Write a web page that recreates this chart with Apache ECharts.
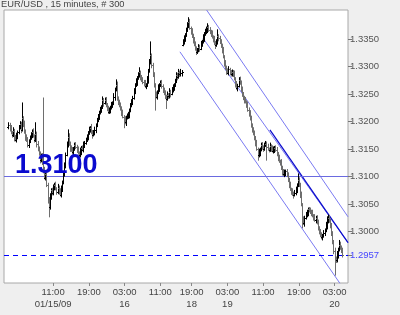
<!DOCTYPE html>
<html>
<head>
<meta charset="utf-8">
<script src="https://cdn.jsdelivr.net/npm/echarts@6/dist/echarts.min.js"></script>
<style>
html,body{margin:0;padding:0;background:#efefef;}
#chart{width:400px;height:315px;}
</style>
</head>
<body>
<div id="chart"></div>
<script>
// ---- data ----
const sessionStarts = ['2009-01-15T01:00:00Z', '2009-01-18T17:00:00Z'];
const sessionBars = [156, 144];

const opens = [
1.3190,1.3194,1.3188,1.3180,1.3176,1.3183,1.3171,1.3167,1.3174,1.3181,
1.3190,1.3196,1.3185,1.3207,1.3195,1.3182,1.3172,1.3166,1.3158,1.3165,
1.3171,1.3176,1.3182,1.3174,1.3167,1.3178,1.3160,1.3149,1.3143,1.3130,
1.3138,1.3125,1.3112,1.3098,1.3104,1.3085,1.3058,1.3045,1.3064,1.3076,
1.3070,1.3081,1.3085,1.3078,1.3072,1.3080,1.3074,1.3067,1.3078,1.3090,
1.3104,1.3121,1.3140,1.3158,1.3172,1.3160,1.3152,1.3148,1.3145,1.3151,
1.3158,1.3154,1.3149,1.3143,1.3139,1.3146,1.3152,1.3149,1.3158,1.3162,
1.3167,1.3172,1.3179,1.3185,1.3189,1.3181,1.3176,1.3180,1.3185,1.3194,
1.3203,1.3209,1.3216,1.3221,1.3227,1.3239,1.3234,1.3239,1.3231,1.3225,
1.3218,1.3221,1.3225,1.3230,1.3234,1.3245,1.3258,1.3267,1.3243,1.3236,
1.3230,1.3224,1.3216,1.3209,1.3203,1.3199,1.3207,1.3210,1.3212,1.3221,
1.3230,1.3236,1.3243,1.3255,1.3267,1.3272,1.3279,1.3285,1.3290,1.3281,
1.3276,1.3272,1.3270,1.3264,1.3267,1.3276,1.3292,1.3309,1.3321,1.3303,
1.3285,1.3266,1.3249,1.3245,1.3254,1.3261,1.3266,1.3270,1.3265,1.3258,
1.3252,1.3245,1.3241,1.3249,1.3246,1.3254,1.3251,1.3258,1.3262,1.3267,
1.3274,1.3285,1.3281,1.3290,1.3286,1.3289,1.3340,1.3345,1.3351,1.3358,
1.3367,1.3376,1.3381,1.3370,1.3363,1.3356,1.3349,1.3340,1.3334,1.3327,
1.3330,1.3336,1.3333,1.3341,1.3346,1.3352,1.3359,1.3364,1.3367,1.3372,
1.3367,1.3363,1.3360,1.3354,1.3349,1.3343,1.3339,1.3345,1.3356,1.3352,
1.3345,1.3338,1.3330,1.3318,1.3305,1.3298,1.3292,1.3289,1.3295,1.3290,
1.3286,1.3290,1.3287,1.3278,1.3267,1.3262,1.3265,1.3276,1.3272,1.3260,
1.3249,1.3243,1.3239,1.3236,1.3230,1.3222,1.3216,1.3205,1.3194,1.3186,
1.3179,1.3170,1.3161,1.3150,1.3139,1.3144,1.3149,1.3157,1.3154,1.3151,
1.3158,1.3160,1.3154,1.3150,1.3149,1.3155,1.3152,1.3147,1.3149,1.3153,
1.3149,1.3141,1.3134,1.3128,1.3125,1.3116,1.3109,1.3104,1.3107,1.3110,
1.3103,1.3094,1.3085,1.3077,1.3072,1.3069,1.3067,1.3071,1.3076,1.3085,
1.3094,1.3085,1.3067,1.3049,1.3021,1.3016,1.3025,1.3031,1.3034,1.3041,
1.3039,1.3036,1.3034,1.3029,1.3025,1.3022,1.3025,1.3016,1.3007,1.3001,
1.2994,1.2990,1.2992,1.2997,1.3003,1.3011,1.3018,1.3024,1.3021,1.3012,
1.2996,1.2981,1.2965,1.2952,1.2948,1.2958,1.2967,1.2976,1.2972,1.2967
];
const highs = [
1.3198,1.3197,1.3193,1.3182,1.3189,1.3186,1.3175,1.3179,1.3183,1.3193,
1.3200,1.3199,1.3234,1.3209,1.3201,1.3185,1.3176,1.3171,1.3167,1.3174,
1.3180,1.3185,1.3187,1.3176,1.3198,1.3181,1.3164,1.3154,1.3145,1.3141,
1.3142,1.3243,1.3117,1.3106,1.3110,1.3088,1.3062,1.3069,1.3078,1.3079,
1.3085,1.3088,1.3090,1.3080,1.3086,1.3083,1.3078,1.3083,1.3092,1.3107,
1.3125,1.3143,1.3163,1.3185,1.3178,1.3163,1.3156,1.3153,1.3153,1.3161,
1.3162,1.3157,1.3154,1.3145,1.3152,1.3155,1.3156,1.3163,1.3164,1.3170,
1.3176,1.3182,1.3190,1.3191,1.3195,1.3184,1.3184,1.3190,1.3196,1.3206,
1.3213,1.3219,1.3226,1.3229,1.3245,1.3242,1.3243,1.3244,1.3233,1.3228,
1.3225,1.3228,1.3235,1.3236,1.3251,1.3261,1.3276,1.3272,1.3245,1.3239,
1.3234,1.3227,1.3221,1.3211,1.3209,1.3210,1.3214,1.3217,1.3223,1.3233,
1.3240,1.3246,1.3260,1.3269,1.3278,1.3282,1.3289,1.3298,1.3292,1.3284,
1.3280,1.3275,1.3275,1.3269,1.3282,1.3295,1.3313,1.3345,1.3323,1.3306,
1.3289,1.3269,1.3254,1.3256,1.3267,1.3269,1.3274,1.3275,1.3267,1.3261,
1.3256,1.3248,1.3254,1.3251,1.3260,1.3257,1.3262,1.3267,1.3269,1.3277,
1.3289,1.3288,1.3295,1.3292,1.3295,1.3293,1.3349,1.3356,1.3360,1.3370,
1.3380,1.3389,1.3386,1.3372,1.3369,1.3359,1.3353,1.3345,1.3336,1.3333,
1.3340,1.3339,1.3346,1.3348,1.3358,1.3362,1.3368,1.3372,1.3378,1.3375,
1.3371,1.3366,1.3365,1.3356,1.3355,1.3346,1.3349,1.3367,1.3358,1.3355,
1.3349,1.3341,1.3335,1.3320,1.3311,1.3301,1.3296,1.3300,1.3297,1.3293,
1.3294,1.3293,1.3292,1.3280,1.3273,1.3268,1.3280,1.3281,1.3274,1.3263,
1.3253,1.3246,1.3244,1.3238,1.3236,1.3225,1.3220,1.3210,1.3196,1.3189,
1.3183,1.3173,1.3166,1.3152,1.3150,1.3152,1.3161,1.3162,1.3156,1.3161,
1.3164,1.3163,1.3159,1.3152,1.3161,1.3158,1.3156,1.3154,1.3155,1.3156,
1.3153,1.3144,1.3139,1.3130,1.3131,1.3119,1.3113,1.3112,1.3112,1.3113,
1.3107,1.3097,1.3090,1.3079,1.3078,1.3072,1.3075,1.3081,1.3087,1.3105,
1.3098,1.3088,1.3072,1.3051,1.3027,1.3028,1.3035,1.3039,1.3043,1.3044,
1.3043,1.3039,1.3039,1.3031,1.3031,1.3028,1.3029,1.3021,1.3009,1.3004,
1.2998,1.2995,1.3002,1.3005,1.3017,1.3027,1.3030,1.3029,1.3023,1.3015,
1.3000,1.2984,1.2970,1.2954,1.2964,1.2970,1.2984,1.2981,1.2974,1.2970
];
const lows = [
1.3187,1.3183,1.3178,1.3172,1.3173,1.3165,1.3165,1.3163,1.3169,1.3178,
1.3187,1.3180,1.3183,1.3191,1.3179,1.3166,1.3164,1.3154,1.3153,1.3162,
1.3168,1.3171,1.3172,1.3163,1.3164,1.3154,1.3147,1.3139,1.3125,1.3127,
1.3122,1.3107,1.3096,1.3094,1.3082,1.3052,1.3027,1.3041,1.3059,1.3067,
1.3067,1.3076,1.3076,1.3068,1.3069,1.3068,1.3065,1.3063,1.3073,1.3087,
1.3101,1.3116,1.3138,1.3154,1.3157,1.3146,1.3146,1.3141,1.3140,1.3148,
1.3151,1.3144,1.3141,1.3135,1.3136,1.3140,1.3147,1.3145,1.3153,1.3159,
1.3164,1.3167,1.3177,1.3181,1.3178,1.3170,1.3174,1.3176,1.3180,1.3191,
1.3200,1.3204,1.3214,1.3217,1.3224,1.3228,1.3232,1.3227,1.3220,1.3215,
1.3215,1.3216,1.3223,1.3226,1.3231,1.3239,1.3256,1.3239,1.3231,1.3227,
1.3221,1.3211,1.3207,1.3189,1.3196,1.3193,1.3205,1.3206,1.3207,1.3218,
1.3227,1.3231,1.3241,1.3251,1.3264,1.3266,1.3277,1.3281,1.3276,1.3273,
1.3269,1.3265,1.3262,1.3260,1.3264,1.3270,1.3290,1.3305,1.3298,1.3282,
1.3263,1.3221,1.3243,1.3241,1.3251,1.3255,1.3264,1.3261,1.3253,1.3249,
1.3242,1.3224,1.3239,1.3242,1.3243,1.3245,1.3249,1.3254,1.3257,1.3264,
1.3271,1.3276,1.3279,1.3282,1.3283,1.3283,1.3338,1.3341,1.3346,1.3355,
1.3364,1.3371,1.3368,1.3359,1.3353,1.3343,1.3338,1.3330,1.3322,1.3324,
1.3327,1.3328,1.3331,1.3337,1.3343,1.3346,1.3357,1.3360,1.3362,1.3364,
1.3360,1.3355,1.3352,1.3345,1.3340,1.3333,1.3337,1.3341,1.3347,1.3342,
1.3335,1.3325,1.3316,1.3301,1.3295,1.3286,1.3287,1.3285,1.3285,1.3283,
1.3283,1.3282,1.3276,1.3263,1.3259,1.3256,1.3263,1.3268,1.3255,1.3246,
1.3240,1.3234,1.3234,1.3226,1.3219,1.3210,1.3203,1.3190,1.3181,1.3176,
1.3167,1.3156,1.3148,1.3130,1.3136,1.3138,1.3147,1.3150,1.3146,1.3148,
1.3155,1.3130,1.3148,1.3145,1.3146,1.3146,1.3145,1.3143,1.3144,1.3146,
1.3138,1.3129,1.3126,1.3121,1.3113,1.3103,1.3102,1.3100,1.3102,1.3100,
1.3091,1.3080,1.3075,1.3068,1.3066,1.3061,1.3065,1.3067,1.3071,1.3082,
1.3082,1.3062,1.3047,1.3007,1.3013,1.3010,1.3023,1.3027,1.3029,1.3036,
1.3033,1.3029,1.3027,1.3021,1.3019,1.3016,1.3014,1.3003,1.2996,1.2991,
1.2987,1.2985,1.2990,1.2993,1.3000,1.3005,1.3016,1.3017,1.3007,1.2993,
1.2978,1.2960,1.2921,1.2944,1.2945,1.2952,1.2965,1.2968,1.2962,1.2954
];
const closes = [
1.3194,1.3188,1.3180,1.3176,1.3183,1.3171,1.3167,1.3174,1.3181,1.3190,
1.3196,1.3185,1.3207,1.3195,1.3182,1.3172,1.3166,1.3158,1.3165,1.3171,
1.3176,1.3182,1.3174,1.3167,1.3178,1.3160,1.3149,1.3143,1.3130,1.3138,
1.3125,1.3112,1.3098,1.3104,1.3085,1.3058,1.3045,1.3064,1.3076,1.3070,
1.3081,1.3085,1.3078,1.3072,1.3080,1.3074,1.3067,1.3078,1.3090,1.3104,
1.3121,1.3140,1.3158,1.3172,1.3160,1.3152,1.3148,1.3145,1.3151,1.3158,
1.3154,1.3149,1.3143,1.3139,1.3146,1.3152,1.3149,1.3158,1.3162,1.3167,
1.3172,1.3179,1.3185,1.3189,1.3181,1.3176,1.3180,1.3185,1.3194,1.3203,
1.3209,1.3216,1.3221,1.3227,1.3239,1.3234,1.3239,1.3231,1.3225,1.3218,
1.3221,1.3225,1.3230,1.3234,1.3245,1.3258,1.3267,1.3243,1.3236,1.3230,
1.3224,1.3216,1.3209,1.3203,1.3199,1.3207,1.3210,1.3212,1.3221,1.3230,
1.3236,1.3243,1.3255,1.3267,1.3272,1.3279,1.3285,1.3290,1.3281,1.3276,
1.3272,1.3270,1.3264,1.3267,1.3276,1.3292,1.3309,1.3321,1.3303,1.3285,
1.3266,1.3249,1.3245,1.3254,1.3261,1.3266,1.3270,1.3265,1.3258,1.3252,
1.3245,1.3241,1.3249,1.3246,1.3254,1.3251,1.3258,1.3262,1.3267,1.3274,
1.3285,1.3281,1.3290,1.3286,1.3289,1.3290,1.3345,1.3351,1.3358,1.3367,
1.3376,1.3381,1.3370,1.3363,1.3356,1.3349,1.3340,1.3334,1.3327,1.3330,
1.3336,1.3333,1.3341,1.3346,1.3352,1.3359,1.3364,1.3367,1.3372,1.3367,
1.3363,1.3360,1.3354,1.3349,1.3343,1.3339,1.3345,1.3356,1.3352,1.3345,
1.3338,1.3330,1.3318,1.3305,1.3298,1.3292,1.3289,1.3295,1.3290,1.3286,
1.3290,1.3287,1.3278,1.3267,1.3262,1.3265,1.3276,1.3272,1.3260,1.3249,
1.3243,1.3239,1.3236,1.3230,1.3222,1.3216,1.3205,1.3194,1.3186,1.3179,
1.3170,1.3161,1.3150,1.3139,1.3144,1.3149,1.3157,1.3154,1.3151,1.3158,
1.3160,1.3154,1.3150,1.3149,1.3155,1.3152,1.3147,1.3149,1.3153,1.3149,
1.3141,1.3134,1.3128,1.3125,1.3116,1.3109,1.3104,1.3107,1.3110,1.3103,
1.3094,1.3085,1.3077,1.3072,1.3069,1.3067,1.3071,1.3076,1.3085,1.3094,
1.3085,1.3067,1.3049,1.3021,1.3016,1.3025,1.3031,1.3034,1.3041,1.3039,
1.3036,1.3034,1.3029,1.3025,1.3022,1.3025,1.3016,1.3007,1.3001,1.2994,
1.2990,1.2992,1.2997,1.3003,1.3011,1.3018,1.3024,1.3021,1.3012,1.2996,
1.2981,1.2965,1.2952,1.2948,1.2958,1.2967,1.2976,1.2972,1.2967,1.2957
];

// channel lines: [bar index, price] end points
const upperLineX = [177.4, 304];
const upperLineY = [1.3403, 1.3027];
const midLineX = [174.1, 304];
const midLineY = [1.3352, 1.2980];
const lowerLineX = [153.5, 296.8];
const lowerLineY = [1.3327, 1.2906];
const trendLineX = [234.1, 304];
const trendLineY = [1.3185, 1.2980];

const levelPrice = 1.3100;
const lastPrice = 1.2957;

const yTicks = [lastPrice, 1.3000, 1.3050, 1.3100, 1.3150, 1.3200, 1.3250, 1.3300, 1.3350];
const tickTimes = ['2009-01-15T11:00:00Z','2009-01-15T19:00:00Z','2009-01-16T03:00:00Z','2009-01-16T11:00:00Z',
  '2009-01-18T19:00:00Z','2009-01-19T03:00:00Z','2009-01-19T11:00:00Z','2009-01-19T19:00:00Z','2009-01-20T03:00:00Z'];
const tickLabels = ['11:00\n01/15/09','19:00','03:00\n16','11:00','19:00\n18','03:00\n19','11:00','19:00','03:00\n20'];

// ---- build ----
const times = [];
sessionStarts.forEach((s, k) => {
  const t0 = Date.parse(s);
  for (let j = 0; j < sessionBars[k]; j++) times.push(t0 + j * 15 * 60000);
});
const tickIdx = tickTimes.map(t => times.indexOf(Date.parse(t)));
const labelMap = {};
tickIdx.forEach((i, k) => { labelMap[i] = tickLabels[k]; });

const ohlc = closes.map((c, i) => [i, opens[i], highs[i], lows[i], c]);
const pair = (xs, ys) => xs.map((x, i) => [x, ys[i]]);

const chart = echarts.init(document.getElementById('chart'), null, {renderer: 'canvas'});
const font = 'Liberation Sans';

chart.setOption({
  animation: false,
  backgroundColor: '#efefef',
  textStyle: {fontFamily: font},
  title: {
    text: 'EUR/USD , 15 minutes, # 300',
    left: 0, top: 0, padding: [0, 0, 0, 1],
    textStyle: {fontSize: 9.3, fontWeight: 'normal', color: '#444', fontFamily: font}
  },
  grid: {left: 4, right: 52, top: 10, bottom: 32, show: true,
    borderColor: '#a8a8a8', borderWidth: 1, backgroundColor: '#ffffff'},
  xAxis: {
    type: 'value', min: -4, max: 304,
    splitLine: {show: false},
    axisLine: {show: false, onZero: false},
    axisTick: {show: true, customValues: tickIdx, length: 3, lineStyle: {color: '#888'}},
    axisLabel: {customValues: tickIdx, formatter: v => labelMap[v] || '',
      fontSize: 9.5, lineHeight: 12, margin: 3, color: '#444', fontFamily: font}
  },
  yAxis: {
    type: 'value', position: 'right', min: 1.29067, max: 1.3403, scale: true,
    splitLine: {show: false},
    axisLine: {show: false, onZero: false},
    axisTick: {show: true, customValues: yTicks, length: 4, lineStyle: {color: '#777'}},
    axisLabel: {customValues: yTicks, formatter: v => Number(v).toFixed(4),
      showMinLabel: true, showMaxLabel: true,
      fontSize: 9.5, margin: 2, fontFamily: font,
      color: v => Math.abs(parseFloat(v) - lastPrice) < 1e-6 ? '#4646ff' : '#555'}
  },
  series: [
    {
      type: 'line', data: pair(upperLineX, upperLineY), symbol: 'none', z: 2,
      lineStyle: {color: '#7a7af2', width: 1}
    },
    {
      type: 'line', data: pair(lowerLineX, lowerLineY), symbol: 'none', z: 2,
      lineStyle: {color: '#7a7af2', width: 1}
    },
    {
      type: 'line', data: pair(midLineX, midLineY), symbol: 'none', z: 2,
      lineStyle: {color: '#7a7af2', width: 1},
      markLine: {
        silent: true, symbol: ['none', 'none'], animation: false, precision: 4,
        data: [
          {yAxis: levelPrice, lineStyle: {color: '#6a6ae0', width: 1, type: 'solid'},
           label: {show: true, position: 'insideStartTop', formatter: '1.3100',
             distance: [11, -2], fontSize: 27, fontWeight: 'bold', color: '#0a0acf', fontFamily: font}},
          {yAxis: lastPrice, lineStyle: {color: '#0000ff', width: 1, type: [5, 4]},
           label: {show: false}}
        ]
      }
    },
    {
      type: 'line', data: pair(trendLineX, trendLineY), symbol: 'none', z: 3,
      lineStyle: {color: '#0a0acc', width: 1.2}
    },
    {
      type: 'custom', z: 5,
      data: ohlc,
      encode: {x: 0, y: [1, 2, 3, 4]},
      renderItem: (params, api) => {
        const i = api.value(0);
        const up = api.value(4) >= api.value(1);
        const col = up ? '#000' : '#6e6e6e';
        const h = api.coord([i, api.value(2)]);
        const l = api.coord([i, api.value(3)]);
        const o = api.coord([i, api.value(1)]);
        const c = api.coord([i, api.value(4)]);
        const x = Math.round(h[0]) + 0.5;
        const oy = Math.round(o[1]) + 0.5;
        const cy = Math.round(c[1]) + 0.5;
        return {
          type: 'group',
          children: [
            {type: 'line', shape: {x1: x, y1: h[1] - 0.5, x2: x, y2: l[1] + 0.5}, style: {stroke: col, lineWidth: 1}},
            {type: 'line', shape: {x1: x - 1.5, y1: oy, x2: x, y2: oy}, style: {stroke: col, lineWidth: 1}},
            {type: 'line', shape: {x1: x, y1: cy, x2: x + 1.5, y2: cy}, style: {stroke: col, lineWidth: 1}}
          ]
        };
      }
    }
  ]
});
</script>
</body>
</html>
